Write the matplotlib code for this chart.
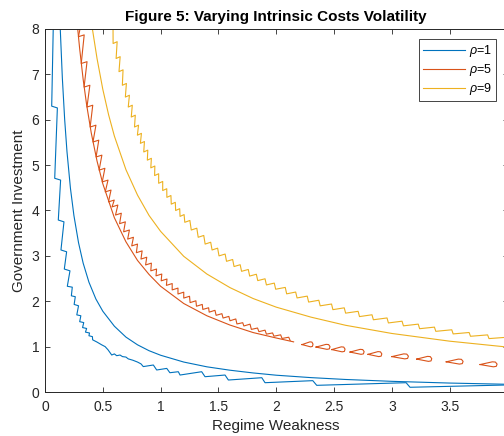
import numpy as np
import matplotlib
matplotlib.use("Agg")
import matplotlib.pyplot as plt
from matplotlib.lines import Line2D

plt.rcParams["font.family"] = ["Liberation Sans", "DejaVu Sans"]
plt.rcParams["mathtext.fontset"] = "custom"
plt.rcParams["mathtext.rm"] = "Liberation Sans"
plt.rcParams["mathtext.it"] = "Liberation Sans:italic"

# colores estilo MATLAB
c_blue = "#0072BD"
c_orange = "#D95319"
c_yellow = "#EDB120"
c_axis = (0.15, 0.15, 0.15)

labels = [r"$\rho$=1", r"$\rho$=5", r"$\rho$=9"]
xtick_vals = [0, 0.5, 1, 1.5, 2, 2.5, 3, 3.5, 4]
xtick_labels = ["0", "0.5", "1", "1.5", "2", "2.5", "3", "3.5", "4"]
ytick_vals = [0, 1, 2, 3, 4, 5, 6, 7, 8]

# curvas suaves
blue_x = [0.125, 0.132, 0.15, 0.17, 0.19, 0.22, 0.25, 0.29, 0.33, 0.38, 0.44, 0.5, 0.6, 0.7,
          0.8, 0.9, 1.0, 1.2, 1.4, 1.6, 1.8, 2.0, 2.3, 2.6, 3.0, 3.5, 4.0]
blue_y = [8.51, 8.0, 6.92, 6.01, 5.30, 4.49, 3.89, 3.29, 2.84, 2.42, 2.05, 1.78, 1.45, 1.21,
          1.04, 0.91, 0.81, 0.66, 0.555, 0.48, 0.42, 0.37, 0.317, 0.276, 0.235, 0.197, 0.17]

orange_x = [0.27, 0.283, 0.30, 0.33, 0.36, 0.40, 0.45, 0.5, 0.6, 0.7, 0.8, 0.9, 1.0, 1.2,
            1.4, 1.6, 1.8, 2.0, 2.15]
orange_y = [8.4, 8.0, 7.56, 6.89, 6.33, 5.71, 5.09, 4.59, 3.84, 3.31, 2.90, 2.59, 2.33, 1.95,
            1.68, 1.475, 1.31, 1.19, 1.105]

yellow_x = [0.40, 0.41, 0.45, 0.5, 0.55, 0.6, 0.7, 0.8, 0.9, 1.0, 1.2, 1.4, 1.6, 1.8, 2.0,
            2.3, 2.6, 3.0, 3.5, 4.0]
yellow_y = [8.18, 8.0, 7.35, 6.67, 6.11, 5.64, 4.90, 4.34, 3.89, 3.54, 2.99, 2.60, 2.30, 2.06,
            1.87, 1.65, 1.47, 1.29, 1.12, 0.99]

# curva dentada azul (vertices leidos)
blue_jag_x = [0.075, 0.058, 0.107, 0.084, 0.135, 0.115, 0.164, 0.138, 0.187, 0.167, 0.216,
              0.193, 0.236, 0.228, 0.262, 0.252, 0.29, 0.275, 0.31, 0.30, 0.335, 0.325, 0.36,
              0.35, 0.385, 0.38, 0.41, 0.412, 0.45, 0.49, 0.52, 0.545, 0.577, 0.60, 0.62,
              0.649, 0.67, 0.70, 0.72, 0.76, 0.80, 0.83, 0.85, 0.937, 0.966, 1.053, 1.08,
              1.153, 1.168, 1.355, 1.384, 1.557, 1.586, 1.875, 1.903, 2.316, 2.35, 3.123,
              3.157, 4.05]
blue_jag_y = [8.5, 6.30, 6.26, 4.71, 4.67, 3.79, 3.75, 3.13, 3.09, 2.71, 2.67, 2.33, 2.31,
              2.12, 2.10, 1.93, 1.90, 1.70, 1.68, 1.55, 1.53, 1.42, 1.40, 1.32, 1.30, 1.24,
              1.22, 1.15, 1.10, 1.04, 1.00, 0.93, 0.815, 0.84, 0.80, 0.815, 0.78, 0.77, 0.73,
              0.70, 0.66, 0.62, 0.56, 0.595, 0.485, 0.52, 0.425, 0.447, 0.374, 0.447, 0.337,
              0.374, 0.264, 0.315, 0.205, 0.25, 0.147, 0.205, 0.104, 0.158]

# curva dentada naranja: vertices izquierdos de cada diente
orange_jag_x = [0.280, 0.289, 0.3135, 0.338, 0.363, 0.3905, 0.415, 0.442, 0.468, 0.495,
                0.521, 0.549, 0.58, 0.61, 0.645, 0.68, 0.715, 0.75, 0.79, 0.83, 0.87, 0.915,
                0.96, 1.005, 1.05, 1.10, 1.15, 1.20, 1.255, 1.31, 1.365, 1.42, 1.48, 1.54,
                1.60, 1.66, 1.72, 1.785, 1.85, 1.915, 1.98, 2.05, 2.12]
orange_jag_y = [8.30, 7.83, 7.24, 6.72, 6.28, 5.84, 5.51, 5.18, 4.89, 4.63, 4.41, 4.19,
                4.08, 3.90, 3.71, 3.53, 3.37, 3.22, 3.07, 2.93, 2.80, 2.67, 2.56, 2.45, 2.35,
                2.25, 2.16, 2.07, 1.97, 1.89, 1.82, 1.76, 1.69, 1.63, 1.57, 1.50, 1.455,
                1.38, 1.33, 1.275, 1.23, 1.18, 1.135]

# lazos naranjas (x inicio, x fin, y)
tear_x0 = [2.223, 2.344, 2.48, 2.638, 2.794, 3.0, 3.215, 3.47, 3.763]
tear_x1 = [2.318, 2.465, 2.595, 2.76, 2.913, 3.143, 3.345, 3.616, 3.91]
tear_y = [1.045, 0.99, 0.935, 0.88, 0.83, 0.78, 0.725, 0.665, 0.605]

# curva dentada amarilla: vertices izquierdos
yellow_jag_x = [0.553, 0.589, 0.615, 0.640, 0.669, 0.695, 0.720, 0.746, 0.774, 0.799, 0.825,
                0.854, 0.885, 0.915, 0.948, 0.983, 1.018, 1.054, 1.092, 1.130, 1.168, 1.209,
                1.265, 1.325, 1.385, 1.445, 1.505, 1.57, 1.635, 1.70, 1.77, 1.84, 1.915,
                1.995, 2.09, 2.18, 2.28, 2.38, 2.49, 2.60, 2.72, 2.84, 2.97, 3.10, 3.24, 3.38,
                3.53, 3.68, 3.84, 4.0, 4.1]
yellow_jag_y = [8.18, 7.68, 7.35, 7.06, 6.76, 6.50, 6.28, 6.06, 5.84, 5.66, 5.48, 5.29, 5.11,
                4.94, 4.77, 4.60, 4.44, 4.29, 4.14, 4.00, 3.87, 3.74, 3.57, 3.41, 3.26, 3.13,
                3.00, 2.88, 2.765, 2.66, 2.555, 2.455, 2.36, 2.265, 2.163, 2.073, 1.982,
                1.899, 1.815, 1.738, 1.662, 1.592, 1.522, 1.458, 1.395, 1.337, 1.280, 1.228,
                1.177, 1.13, 1.10]


def build_sawtooth(xa, ya, width):
    xs, ys = [], []
    for i in range(len(xa)):
        xs.append(xa[i])
        ys.append(ya[i])
        if i < len(xa) - 1:
            dy = ya[i] - ya[i + 1]
            xs.append(max(xa[i] + width, xa[i + 1] - 0.012))
            ys.append(ya[i] + min(0.04, 0.6 * dy))
    return xs, ys


fig = plt.figure(figsize=(5.04, 4.36), dpi=100)
ax = fig.add_axes([45 / 504, 44 / 436, 462.5 / 504, 363 / 436])

lw = 0.8
ax.plot(blue_x, blue_y, color=c_blue, lw=lw)
ax.plot(blue_jag_x, blue_jag_y, color=c_blue, lw=lw)

ax.plot(orange_x, orange_y, color=c_orange, lw=lw)
ox, oy = build_sawtooth(orange_jag_x, orange_jag_y, 0.05)
ax.plot(ox, oy, color=c_orange, lw=lw)

# forma de lazo
shape_dx = np.array([0, 0.72, 0.9, 1.0, 0.95, 0.78, 0])
shape_dy = np.array([0, 0.06, 0.055, 0.01, -0.04, -0.05, 0])
for x0, x1, yc in zip(tear_x0, tear_x1, tear_y):
    ax.plot(x0 + shape_dx * (x1 - x0), yc + shape_dy, color=c_orange, lw=lw)

ax.plot(yellow_x, yellow_y, color=c_yellow, lw=lw)
yx, yy = build_sawtooth(yellow_jag_x, yellow_jag_y, 0.035)
ax.plot(yx, yy, color=c_yellow, lw=lw)

ax.set_xlim(0, 4)
ax.set_ylim(0, 8)
ax.set_xticks(xtick_vals)
ax.set_xticklabels(xtick_labels)
ax.set_yticks(ytick_vals)

for sp in ax.spines.values():
    sp.set_color(c_axis)
    sp.set_linewidth(0.7)
ax.tick_params(direction="in", length=3.3, width=0.6, color=c_axis, labelcolor=c_axis,
               labelsize=10, top=True, right=True)
ax.tick_params(axis="x", pad=6)
ax.tick_params(axis="y", pad=4)

ax.set_xlabel("Regime Weakness", fontsize=11, color=c_axis)
ax.xaxis.set_label_coords(0.5, -0.075)
ax.set_ylabel("Government Investment", fontsize=11, color=c_axis)
ax.yaxis.set_label_coords(-0.042, 0.5)
ax.set_title("Figure 5: Varying Intrinsic Costs Volatility", fontsize=11,
             fontweight="bold", pad=6)

handles = [Line2D([], [], color=c, lw=lw) for c in (c_blue, c_orange, c_yellow)]
leg = ax.legend(handles, labels, loc="upper right", bbox_to_anchor=(496 / 504, 1 - 39.3 / 436),
                bbox_transform=fig.transFigure, borderaxespad=0, fontsize=9,
                handlelength=3.4, handletextpad=0.3, borderpad=0.3, labelspacing=0.25,
                fancybox=False, framealpha=1)
leg.get_frame().set_edgecolor(c_axis)
leg.get_frame().set_linewidth(0.6)

fig.savefig("out.png", dpi=100)
